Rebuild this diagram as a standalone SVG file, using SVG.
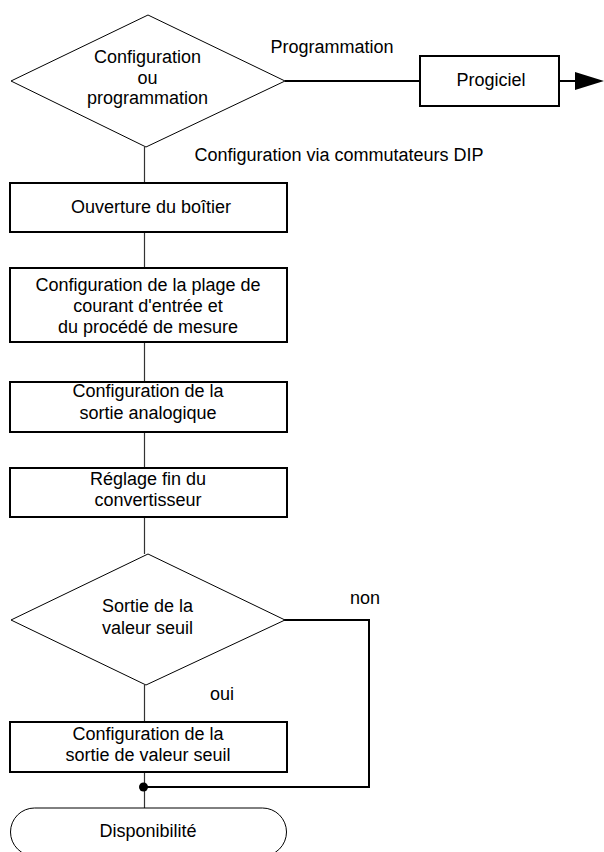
<svg xmlns="http://www.w3.org/2000/svg" width="604" height="852" viewBox="0 0 604 852">
<style>
text{font-family:"Liberation Sans",Arial,sans-serif;font-size:18px;fill:#000;text-anchor:middle}
.box{fill:#fff;stroke:#000;stroke-width:2}
.dia{fill:#fff;stroke:#000;stroke-width:1}
.thin{stroke:#333;stroke-width:1.2;fill:none}
.thick{stroke:#000;stroke-width:2;fill:none}
</style>
<rect width="604" height="852" fill="#fff"/>
<g id="connectors">
<path class="thin" d="M144.5 147V183M144.5 232V268M144.5 342V382M144.5 432V468M144.5 517V554M144.5 685V722M144.5 772V808"/>
<path class="thick" d="M285 81H420M559 81H576"/>
<polygon points="575,72 604,81 575,90" fill="#000"/>
<path class="thick" d="M267 620H369V787H145"/>
<circle cx="143.5" cy="787" r="4.5" fill="#000"/>
<text x="332" y="53">Programmation</text>
<text x="339" y="161">Configuration via commutateurs DIP</text>
<text x="365" y="604">non</text>
<text x="222" y="700">oui</text>
</g>
<g id="d1">
<polygon class="dia" points="11,81 148,15 285,81 146,147"/>
<text x="147.5" y="63">Configuration</text>
<text x="147.5" y="84">ou</text>
<text x="147.5" y="104">programmation</text>
</g>
<g id="progiciel">
<rect class="box" x="420" y="56" width="139" height="50"/>
<text x="491" y="86">Progiciel</text>
</g>
<g id="b1">
<rect class="box" x="10" y="183" width="277" height="49"/>
<text x="151" y="213">Ouverture du boîtier</text>
</g>
<g id="b2">
<rect class="box" x="10" y="268" width="277" height="74"/>
<text x="148" y="291">Configuration de la plage de</text>
<text x="148" y="312">courant d'entrée et</text>
<text x="148" y="333">du procédé de mesure</text>
</g>
<g id="b3">
<rect class="box" x="10" y="382" width="277" height="50"/>
<text x="148" y="397">Configuration de la</text>
<text x="148" y="419">sortie analogique</text>
</g>
<g id="b4">
<rect class="box" x="10" y="468" width="277" height="49"/>
<text x="148" y="485">Réglage fin du</text>
<text x="148" y="506">convertisseur</text>
</g>
<g id="d2">
<polygon class="dia" points="11,620 148,554 285,620 146,685"/>
<text x="147.5" y="612">Sortie de la</text>
<text x="147.5" y="634">valeur seuil</text>
</g>
<g id="b5">
<rect class="box" x="10" y="722" width="277" height="50"/>
<text x="148" y="740">Configuration de la</text>
<text x="148" y="761">sortie de valeur seuil</text>
</g>
<g id="end">
<rect class="dia" x="10.5" y="808" width="276" height="48" rx="24"/>
<text x="148" y="837">Disponibilité</text>
</g>
</svg>
